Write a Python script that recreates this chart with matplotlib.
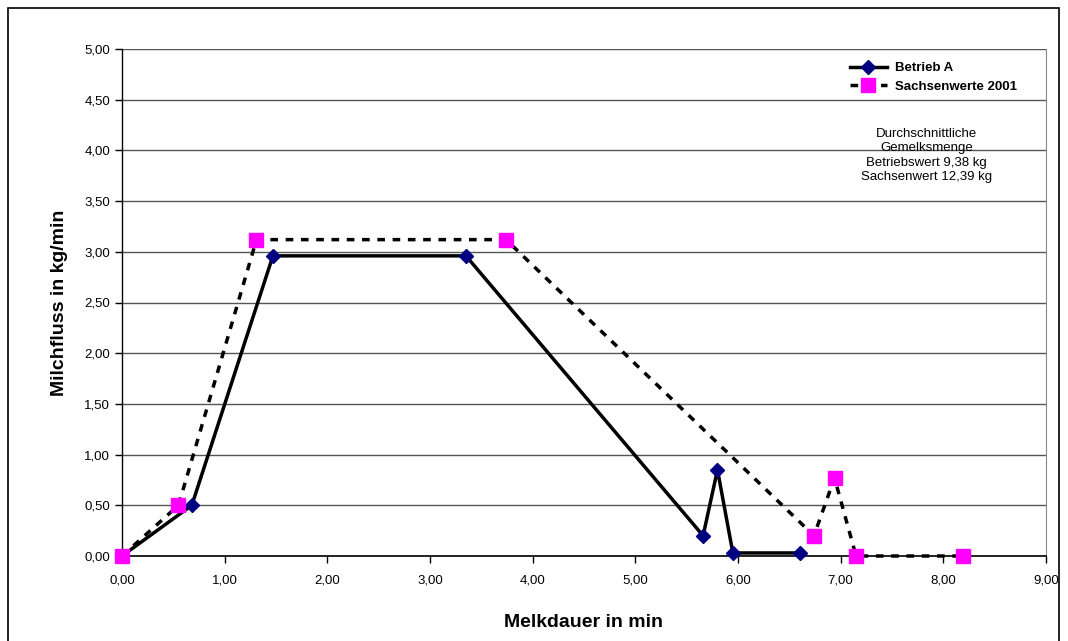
import matplotlib.pyplot as plt
from matplotlib import ticker as mticker
from matplotlib.patches import Rectangle

# Betrieb A
zeit_a = [0.0, 0.68, 1.47, 3.35, 5.66, 5.80, 5.95, 6.60]
fluss_a = [0.0, 0.50, 2.96, 2.96, 0.20, 0.85, 0.03, 0.03]

# Sachsenwerte 2001
zeit_s = [0.0, 0.55, 1.31, 3.74, 6.74, 6.94, 7.15, 8.19]
fluss_s = [0.0, 0.50, 3.12, 3.12, 0.20, 0.77, 0.0, 0.0]

xticks = [0, 1, 2, 3, 4, 5, 6, 7, 8, 9]
yticks = [0, 0.5, 1, 1.5, 2, 2.5, 3, 3.5, 4, 4.5, 5]

plt.rcParams['font.family'] = ['Liberation Sans', 'DejaVu Sans']

fig = plt.figure(figsize=(10.68, 6.41), dpi=100)
ax = fig.add_axes([122/1068, 1-556/641, (1046-122)/1068, (556-49)/641])

# Rahmen um die ganze Grafik
fig.patches.append(Rectangle((8/1068, -0.05), (1059-8)/1068, 1.05-8/641, transform=fig.transFigure,
                             fill=False, edgecolor='black', lw=1.2, clip_on=False))

l_a, = ax.plot(zeit_a, fluss_a, color='black', lw=2.5, marker='D', markersize=7,
               markerfacecolor='#000080', markeredgecolor='#000080', label='Betrieb A',
               zorder=3, clip_on=False)
l_s, = ax.plot(zeit_s, fluss_s, color='black', ls=(0, (2.2, 2.2)), lw=2.5, marker='s', markersize=10,
               markerfacecolor='#ff00ff', markeredgecolor='#ff00ff', label='Sachsenwerte 2001',
               zorder=4, clip_on=False)

ax.set_xlim(0, 9)
ax.set_ylim(0, 5)
ax.set_xticks(xticks)
ax.set_yticks(yticks)
fmt = mticker.FuncFormatter(lambda v, p: ('%.2f' % v).replace('.', ','))
ax.xaxis.set_major_formatter(fmt)
ax.yaxis.set_major_formatter(fmt)
ax.tick_params(direction='out', length=5, labelsize=9.5, width=1)
ax.tick_params(axis='x', pad=8)

ax.grid(True, axis='y', color='#555555', lw=1)
ax.set_axisbelow(True)
ax.spines['top'].set_visible(False)
ax.spines['right'].set_color('#888888')
ax.spines['left'].set_linewidth(1)
ax.spines['bottom'].set_linewidth(1.2)

ax.set_xlabel('Melkdauer in min', fontsize=14, fontweight='bold', labelpad=20)
ax.set_ylabel('Milchfluss in kg/min', fontsize=14, fontweight='bold', labelpad=12)

leg = ax.legend([l_a, l_s], ['Betrieb A', 'Sachsenwerte 2001'], loc='upper left',
                bbox_to_anchor=(0.775, 0.998), frameon=False, prop={'weight': 'bold', 'size': 9.5},
                handlelength=2.8, handletextpad=0.6, labelspacing=0.5)

ax.text(0.871, 0.79, 'Durchschnittliche\nGemelksmenge\nBetriebswert 9,38 kg\nSachsenwert 12,39 kg',
        transform=ax.transAxes, ha='center', va='center', fontsize=9.5, linespacing=1.25)

fig.savefig('out.png', dpi=100)
